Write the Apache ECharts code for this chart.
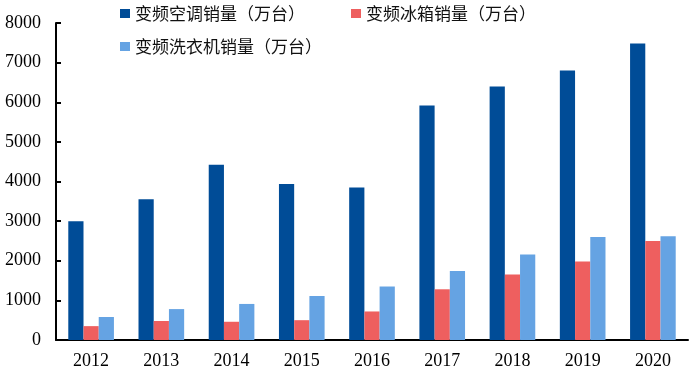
<!DOCTYPE html>
<html><head><meta charset="utf-8">
<script src="https://cdn.jsdelivr.net/npm/echarts@6/dist/echarts.min.js"></script>
<style>html,body{margin:0;padding:0;background:#fff}#c{width:692px;height:372px}</style>
</head><body><div id="c"></div>
<script>
const categories = ['2012','2013','2014','2015','2016','2017','2018','2019','2020'];
const acSales = [3000, 3550, 4420, 3940, 3850, 5920, 6400, 6800, 7480];
const fridgeSales = [350, 480, 460, 500, 720, 1280, 1650, 1980, 2500];
const washerSales = [580, 780, 910, 1110, 1350, 1740, 2160, 2600, 2620];
const yTicks = [0, 1000, 2000, 3000, 4000, 5000, 6000, 7000, 8000];
const seriesNames = ['变频空调销量（万台）','变频冰箱销量（万台）','变频洗衣机销量（万台）'];

const chart = echarts.init(document.getElementById('c'), null, {renderer:'canvas'});
const legendText = {fontFamily:'Noto Sans CJK SC', fontSize:17, color:'#111'};
const legendBase = {itemWidth:10, itemHeight:9, icon:'rect', textStyle:legendText, itemGap:4};
chart.setOption({
  animation:false,
  grid:{left:56, right:4, top:23, bottom:32},
  legend:[
    Object.assign({data:[seriesNames[0]], left:115, top:0}, legendBase),
    Object.assign({data:[seriesNames[1]], left:346, top:0}, legendBase),
    Object.assign({data:[seriesNames[2]], left:115, top:33}, legendBase)
  ],
  xAxis:{type:'category', data:categories,
    axisLine:{lineStyle:{color:'#000', width:2}}, axisTick:{show:false},
    axisLabel:{fontFamily:'Liberation Serif', fontSize:18, color:'#000', margin:12}},
  yAxis:{type:'value', min:yTicks[0], max:yTicks[yTicks.length-1], interval:1000,
    axisLine:{show:true, lineStyle:{color:'#000', width:2}},
    axisTick:{show:true, inside:true, length:5, lineStyle:{color:'#000', width:2}},
    splitLine:{show:false},
    axisLabel:{fontFamily:'Liberation Serif', fontSize:18, color:'#000', margin:15, formatter:function(v){return String(v);}}},
  series:[
    {name:seriesNames[0], type:'bar', data:acSales, itemStyle:{color:'#004C97'}, barGap:'0%', barCategoryGap:'35%'},
    {name:seriesNames[1], type:'bar', data:fridgeSales, itemStyle:{color:'#EE5F5F'}, barGap:'0%', barCategoryGap:'35%'},
    {name:seriesNames[2], type:'bar', data:washerSales, itemStyle:{color:'#65A3E3'}, barGap:'0%', barCategoryGap:'35%'}
  ]
});
</script></body></html>
